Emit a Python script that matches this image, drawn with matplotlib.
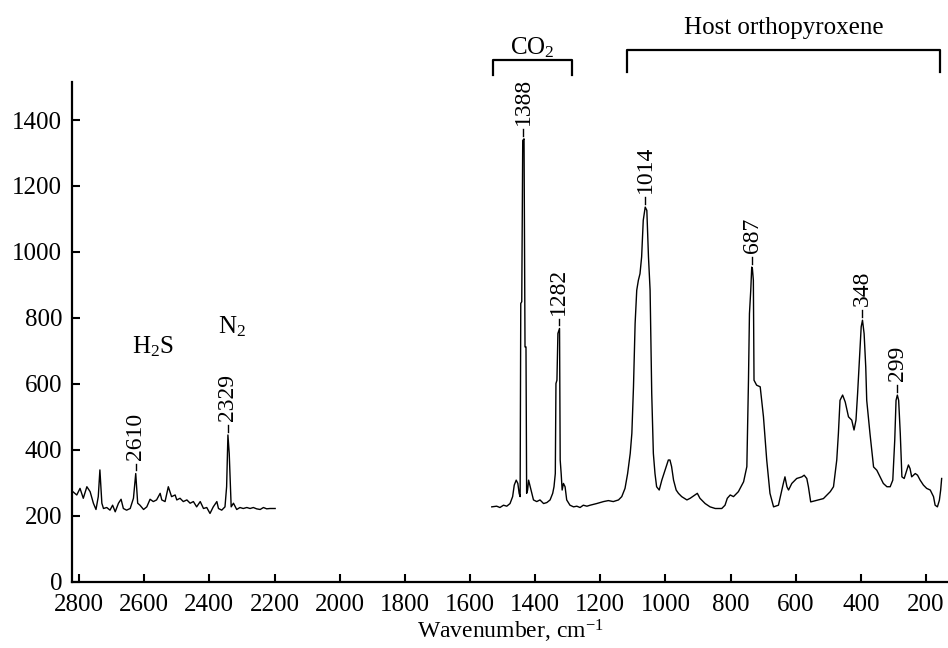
import numpy as np
import matplotlib
matplotlib.use("Agg")
import matplotlib.pyplot as plt

plt.rcParams['font.family'] = ['Liberation Serif', 'DejaVu Serif']
plt.rcParams['mathtext.fontset'] = 'custom'
plt.rcParams['mathtext.rm'] = 'Liberation Serif'
plt.rcParams['mathtext.it'] = 'Liberation Serif:italic'

# Raman spectrum, fluid part (H2S, N2 region)
wn_left = [2819, 2807, 2797, 2787, 2776, 2766, 2756, 2748, 2741, 2736, 2730, 2725,
           2715, 2705, 2697, 2689, 2679, 2671, 2664, 2654, 2643, 2633, 2626, 2620,
           2613, 2602, 2592, 2582, 2572, 2562, 2551, 2546, 2536, 2526, 2516, 2505,
           2500, 2490, 2480, 2469, 2459, 2449, 2439, 2428, 2418, 2408, 2398, 2388,
           2377, 2372, 2362, 2352, 2347, 2343, 2339, 2333, 2326, 2316, 2306, 2296,
           2285, 2275, 2265, 2255, 2244, 2234, 2224, 2214, 2198]
int_left = [273, 263, 283, 253, 288, 273, 238, 219, 258, 339, 238, 222,
            225, 217, 232, 212, 238, 250, 222, 217, 222, 253, 328, 238,
            232, 219, 227, 250, 243, 248, 268, 248, 243, 288, 258, 263,
            248, 253, 243, 248, 238, 243, 227, 243, 222, 225, 207, 227,
            243, 222, 217, 227, 288, 445, 389, 227, 238, 219, 225, 222,
            225, 222, 225, 221, 219, 225, 221, 222, 222]

# CO2 + host orthopyroxene region
wn_right = [1533, 1518, 1508, 1497, 1487, 1477, 1469, 1464, 1458, 1453, 1449, 1446,
            1444, 1441, 1438, 1434, 1431, 1428, 1426, 1423, 1420, 1415, 1410, 1405,
            1395, 1385, 1374, 1364, 1354, 1346, 1342, 1338, 1336, 1333, 1330, 1325,
            1323, 1320, 1317, 1313, 1308, 1303, 1293, 1282, 1272, 1262, 1252, 1241,
            1231, 1211, 1190, 1175, 1160, 1144, 1134, 1124, 1116, 1108, 1103, 1098,
            1093, 1088, 1083, 1078, 1073, 1068, 1062, 1057, 1052, 1047, 1044, 1042,
            1037, 1032, 1027, 1019, 1011, 1001, 991, 986, 981, 975, 967, 960,
            950, 934, 924, 909, 902, 894, 878, 863, 847, 827, 817, 810,
            801, 791, 776, 760, 750, 745, 742, 738, 735, 733, 730, 728,
            720, 709, 699, 689, 679, 668, 653, 638, 633, 627, 622, 612,
            597, 581, 574, 566, 561, 554, 535, 515, 494, 484, 474, 469,
            464, 456, 448, 438, 428, 421, 415, 410, 404, 399, 395, 390,
            385, 382, 372, 361, 351, 341, 331, 320, 310, 302, 296, 292,
            288, 284, 279, 274, 267, 259, 254, 249, 244, 233, 226, 218,
            208, 198, 187, 177, 172, 165, 159, 155, 152]
int_right = [227, 229, 225, 232, 229, 237, 258, 293, 308, 298, 268, 258,
             844, 849, 1338, 1343, 712, 712, 268, 278, 308, 288, 268, 248,
             243, 248, 237, 240, 248, 268, 288, 328, 601, 611, 753, 768,
             369, 328, 278, 298, 288, 248, 232, 227, 229, 225, 232, 229,
             232, 237, 243, 246, 243, 248, 258, 283, 328, 389, 450, 591,
             783, 884, 914, 934, 985, 1096, 1136, 1126, 985, 884, 702, 571,
             389, 328, 288, 278, 308, 339, 369, 369, 349, 308, 278, 268,
             258, 248, 253, 263, 268, 253, 237, 227, 222, 222, 232, 253,
             263, 258, 273, 303, 349, 611, 813, 884, 954, 950, 914, 611,
             596, 591, 500, 369, 268, 227, 232, 298, 318, 288, 278, 298,
             313, 318, 323, 313, 288, 242, 247, 252, 273, 288, 369, 449,
             550, 566, 545, 500, 490, 460, 490, 571, 682, 773, 793, 752,
             651, 550, 449, 348, 338, 318, 298, 288, 288, 308, 429, 550,
             566, 550, 449, 318, 313, 338, 354, 343, 318, 328, 323, 308,
             293, 283, 278, 258, 232, 227, 247, 278, 313]

# peak annotations
peak_labels = ["2610", "2329", "1388", "1282", "1014", "687", "348", "299"]
peak_pos = [2626, 2343, 1436, 1328, 1062, 734, 395, 288]

# species labels
species = ["H$_\\mathregular{2}$S", "N$_\\mathregular{2}$"]
species_x = [2572, 2331]
species_y = [692, 753]

# group brackets
groups = ["CO$_\\mathregular{2}$", "Host orthopyroxene"]
group_span = [(1530, 1287), (1119, 157)]
group_top = [1581, 1611]
group_leg = [1538, 1545]
group_text_y = [1600, 1662]

xticks = list(range(2800, 100, -200))
yticks = list(range(0, 1600, 200))

fig = plt.figure(figsize=(9.48, 6.48), dpi=100)
ax = fig.add_axes([0.076, 0.1023, 0.924, 0.771])

ax.plot(wn_left, int_left, color='black', linewidth=1.0)
ax.plot(wn_right, int_right, color='black', linewidth=1.0)

ax.set_xlim(2821.5, 132.5)
ax.set_ylim(0, 1515)
ax.set_xticks(xticks)
ax.set_yticks(yticks)

for s in ['top', 'right']:
    ax.spines[s].set_visible(False)
for s in ['left', 'bottom']:
    ax.spines[s].set_linewidth(1.6)

ax.tick_params(axis='both', direction='in', length=6, width=1.5, labelsize=18)
ax.tick_params(axis='x', pad=8.5)
ax.tick_params(axis='y', pad=7)

ax.set_xlabel("Wavenumber, cm$^{\\mathregular{-1}}$", fontsize=17, labelpad=2)

# peak labels with short dash
wl = np.array(wn_left + wn_right)
il = np.array(int_left + int_right)
for lab, pos in zip(peak_labels, peak_pos):
    near = np.abs(wl - pos) <= 6
    top = il[near].max()
    ax.plot([pos, pos], [top + 10, top + 30], color='black', linewidth=1.0)
    ax.text(pos, top + 42, lab, rotation=90, rotation_mode='anchor',
            ha='left', va='center', fontsize=17)

for lab, x, y in zip(species, species_x, species_y):
    ax.text(x, y, lab, ha='center', va='baseline', fontsize=18)

for lab, (x0, x1), top, leg, ty in zip(groups, group_span, group_top, group_leg, group_text_y):
    ax.plot([x0, x0, x1, x1], [leg, top, top, leg], color='black',
            linewidth=1.6, clip_on=False)
    ax.text((x0 + x1) / 2, ty, lab, ha='center', va='baseline', fontsize=18)

plt.savefig("out.png", dpi=100)
